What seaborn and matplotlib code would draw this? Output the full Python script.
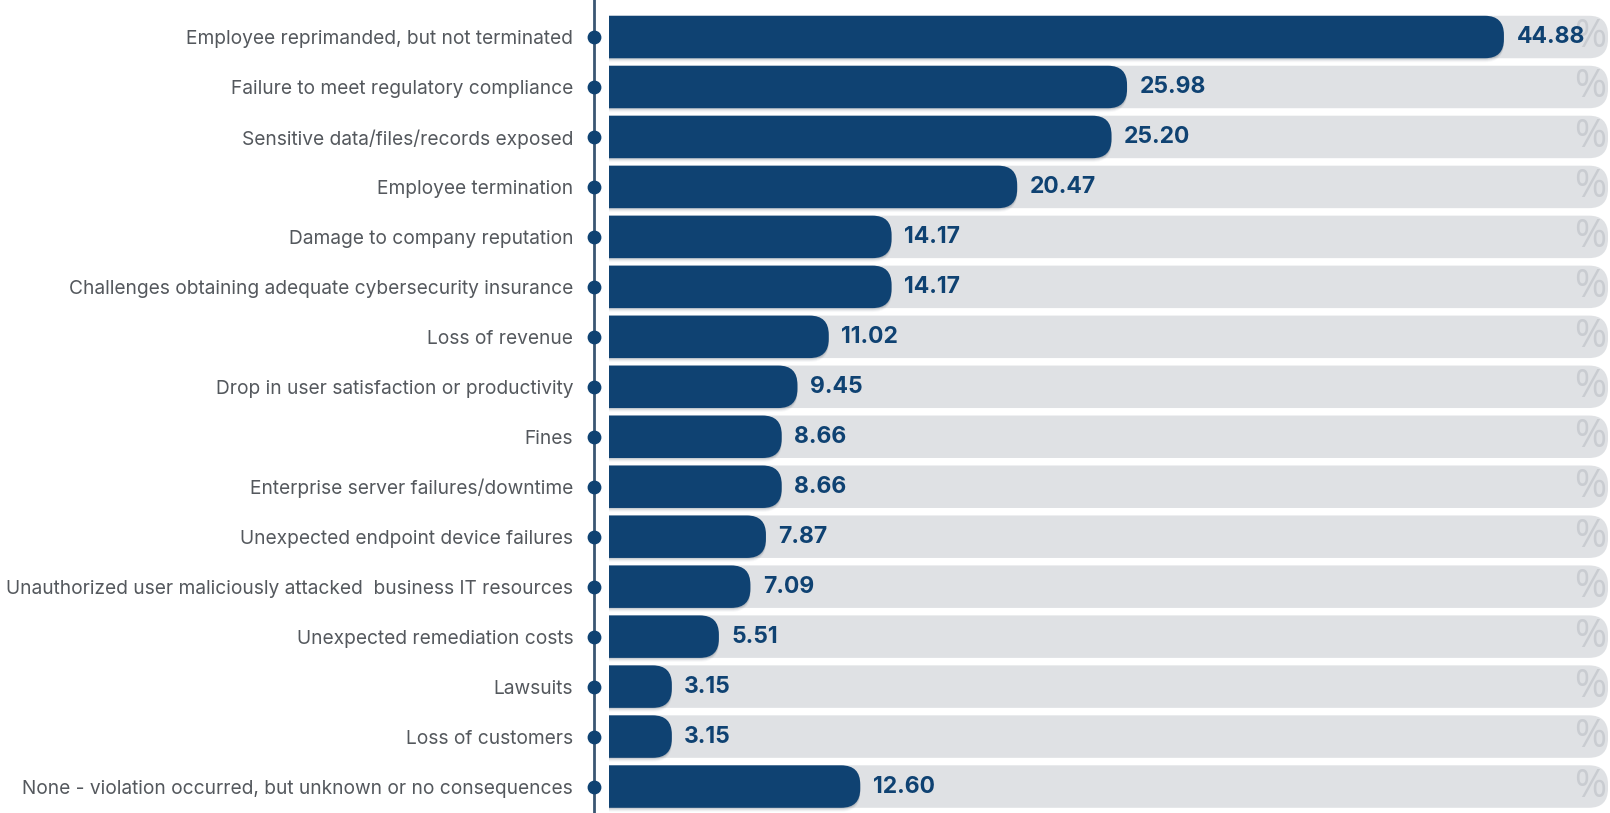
import matplotlib
matplotlib.use("Agg")
import matplotlib.pyplot as plt
from matplotlib.patches import FancyBboxPatch, Rectangle
import seaborn as sns
import pandas as pd

categories = [
    "Employee reprimanded, but not terminated",
    "Failure to meet regulatory compliance",
    "Sensitive data/files/records exposed",
    "Employee termination",
    "Damage to company reputation",
    "Challenges obtaining adequate cybersecurity insurance",
    "Loss of revenue",
    "Drop in user satisfaction or productivity",
    "Fines",
    "Enterprise server failures/downtime",
    "Unexpected endpoint device failures",
    "Unauthorized user maliciously attacked  business IT resources",
    "Unexpected remediation costs",
    "Lawsuits",
    "Loss of customers",
    "None - violation occurred, but unknown or no consequences",
]
values = [44.88, 25.98, 25.20, 20.47, 14.17, 14.17, 11.02, 9.45,
          8.66, 8.66, 7.87, 7.09, 5.51, 3.15, 3.15, 12.60]
track_max = 50.1

NAVY = "#0f4272"
TRACK = "#dfe1e4"
PCT = "#c9ccd1"
LABEL = "#54585d"
AXIS = "#3a5673"

sns.set_theme(style="white")
plt.rcParams["font.family"] = ["Inter", "DejaVu Sans"]

df = pd.DataFrame({"category": categories, "value": values,
                   "track": [track_max] * len(values)})

W, H, DPI = 1610, 813, 100
fig = plt.figure(figsize=(W / DPI, H / DPI), dpi=DPI)
ax_left_px = 594
ax = fig.add_axes([ax_left_px / W, 0, 1 - ax_left_px / W, 1])

bar_w = 0.85
sns.barplot(data=df, x="track", y="category", color=TRACK, width=bar_w,
            ax=ax, saturation=1, zorder=1)
n_track = len(ax.patches)
sns.barplot(data=df, x="value", y="category", color=NAVY, width=bar_w,
            ax=ax, saturation=1, zorder=3)

# axis geometry: x = 0 sits 15 px right of the spine
px_per_x = 19.94
row_px = 49.97
x_left = -15 / px_per_x
x_right = x_left + (W - ax_left_px) / px_per_x
top_y = -37 / row_px
bot_y = top_y + H / row_px
ax.set_xlim(x_left, x_right)
ax.set_ylim(bot_y, top_y)

# replace the flat rectangles with bars rounded on the right end
radius_px = 19
rx = radius_px / px_per_x
aspect = px_per_x / row_px
clip_rect = Rectangle((0, top_y), 200, bot_y - top_y, transform=ax.transData,
                      visible=False)
ax.add_patch(clip_rect)
bars = list(ax.patches[:-1])
for i, p in enumerate(bars):
    if not isinstance(p, Rectangle) or p is clip_rect:
        continue
    x0, y0 = p.get_x(), p.get_y()
    w, h = p.get_width(), p.get_height()
    is_track = i < n_track
    fc = p.get_facecolor()
    p.set_visible(False)
    if not is_track:
        # soft drop shadow beneath the value bar
        for k, a in [(1, 0.10), (2, 0.07), (3, 0.05), (4, 0.03)]:
            dy = k / row_px
            sh = FancyBboxPatch((x0 - rx * 2, y0 + dy), w + rx * 2, h,
                                boxstyle=f"round,pad=0,rounding_size={rx}",
                                mutation_aspect=aspect, facecolor="#1d2d40",
                                alpha=a, edgecolor="none", zorder=2)
            ax.add_patch(sh)
            sh.set_clip_path(clip_rect)
    fb = FancyBboxPatch((x0 - rx * 2, y0), w + rx * 2, h,
                        boxstyle=f"round,pad=0,rounding_size={rx}",
                        mutation_aspect=aspect, facecolor=fc,
                        edgecolor="none", zorder=1 if is_track else 3)
    ax.add_patch(fb)
    fb.set_clip_path(clip_rect)

# faint percent signs at the end of each track
pct_x = x_left + (1574 - ax_left_px) / px_per_x
for i in range(len(categories)):
    ax.text(pct_x, i, "%", fontsize=28, color=PCT, ha="left", va="center",
            zorder=2, family=["Open Sans", "DejaVu Sans"])

# value labels
for i, v in enumerate(values):
    ax.annotate(f"{v:.2f}", xy=(v, i), xytext=(9, 0),
                textcoords="offset points", ha="left", va="center",
                fontsize=16.5, fontweight="bold", color=NAVY, zorder=5)

# vertical guide with a dot per row
for s in ["top", "right", "bottom"]:
    ax.spines[s].set_visible(False)
ax.spines["left"].set_color(AXIS)
ax.spines["left"].set_linewidth(2)
ax.scatter([x_left] * len(categories), range(len(categories)), s=80,
           color=NAVY, zorder=6, clip_on=False)

ax.set_xlabel("")
ax.set_ylabel("")
ax.set_xticks([])
ax.tick_params(axis="y", length=0, pad=15, labelsize=13.8, labelcolor=LABEL)

fig.savefig("out.png", dpi=DPI, facecolor="white")
